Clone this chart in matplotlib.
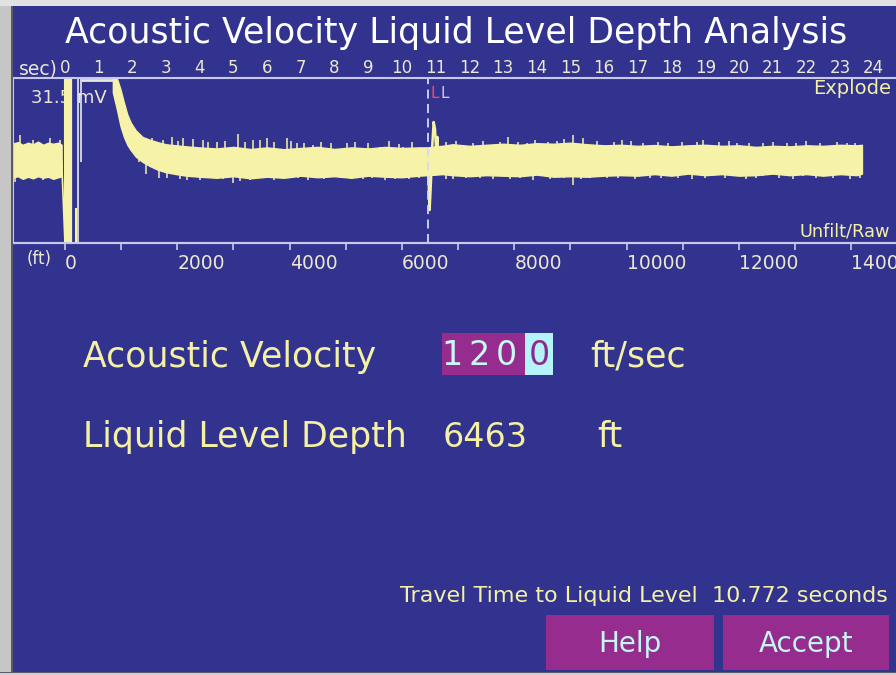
import matplotlib
matplotlib.use('Agg')
import matplotlib.pyplot as plt
from matplotlib.patches import Rectangle

W, H = 896, 675
BG = '#31338f'
FRAME = '#c8c8ec'
TRACE = '#f6f2a8'
PALE = '#f4f0a4'
LIGHT = '#ece8d0'
MAGENTA = '#962c8e'
CYAN = '#b4f4f8'
FONT = 'DejaVu Sans'

# ---- data ----
velocity = 1200          # ft/sec
travel_time = 10.772     # sec
depth = 6463             # ft
full_scale = 31.5        # mV

sec_ticks = list(range(0, 25))
ft_ticks = list(range(0, 15000, 1000))
ft_labels = [str(f) if f % 2000 == 0 else '' for f in ft_ticks]

# noise band before the shot (mV)
pre_t = [-1.55, -1.40, -1.25, -1.10, -0.95, -0.80, -0.65, -0.50, -0.35, -0.20, -0.10]
pre_hi = [6.5, 7.0, 6.0, 6.8, 6.2, 7.2, 6.0, 6.8, 6.4, 6.8, 6.0]
pre_lo = [-6.5, -6.0, -7.0, -6.2, -6.8, -6.0, -6.6, -6.2, -7.0, -6.4, -6.0]

# gun pulse: vertical strokes (sec, mV)
pulse_t = [0.00, 0.13, 0.33, 0.39, 0.47]
pulse_lo = [-31.5, -31.5, -31.5, -31.5, -0.6]
pulse_hi = [31.5, 31.5, -18.0, 31.5, 31.5]
clip_start, clip_end = 0.47, 1.42

# trace envelope after the shot (mV)
band_t = [1.42, 1.55, 1.65, 1.75, 1.85, 1.95, 2.10, 2.30, 2.50, 2.75, 3.00, 3.30, 3.60, 4.00,
          4.50, 5.00, 5.50, 6.00, 6.50, 7.00, 7.50, 8.00, 8.50, 9.00, 9.50, 10.00, 10.50, 10.75,
          11.00, 11.20, 11.50, 12.00, 12.50, 13.00, 13.50, 14.00, 14.50, 15.00, 15.50, 16.00,
          16.50, 17.00, 17.50, 18.00, 18.50, 19.00, 19.50, 20.00, 20.50, 21.00, 21.50, 22.00,
          22.50, 23.00, 23.50, 23.65]
band_hi = [31.5, 31.0, 27.0, 22.0, 17.5, 14.5, 11.5, 9.0, 8.0, 7.0, 6.2, 5.8, 5.4, 5.0,
           4.6, 5.2, 4.4, 5.0, 4.3, 4.8, 5.2, 4.4, 5.0, 4.6, 5.2, 4.8, 5.0, 5.0,
           5.4, 5.6, 6.2, 5.6, 6.0, 6.4, 6.0, 6.6, 6.4, 6.8, 6.2, 5.8,
           6.0, 5.6, 5.9, 5.4, 5.8, 6.0, 5.6, 5.8, 5.2, 5.6, 5.4, 5.8,
           5.6, 6.0, 5.8, 6.0]
band_lo = [26.0, 19.0, 13.0, 9.0, 6.0, 4.0, 1.5, -0.5, -2.0, -3.5, -4.5, -5.2, -5.8, -6.2,
           -6.6, -6.0, -6.8, -6.2, -6.6, -5.8, -6.4, -6.0, -6.6, -5.8, -6.2, -6.4, -5.8, -5.6,
           -5.4, -5.2, -5.6, -6.0, -5.6, -5.8, -6.0, -5.4, -6.2, -6.0, -6.2, -5.8,
           -5.6, -5.8, -5.2, -5.8, -5.0, -5.6, -5.2, -5.8, -5.6, -5.0, -5.6, -5.2,
           -5.8, -5.2, -5.6, -5.0]

# single spikes sticking out of the band (sec, mV)
spike_t = [-1.34, -0.95, -0.45, -0.15, -1.48, -1.04, -0.65, -0.09,
           2.58, 3.18, 3.50, 4.09, 4.51, 5.13, 5.58, 5.99, 6.59, 6.88,
           3.03, 3.62, 4.39, 4.99, 5.49, 6.47,
           7.36, 8.37, 9.35, 10.03, 11.81, 12.61, 13.15, 13.71, 14.33, 15.07, 15.37,
           8.16, 8.84, 11.51, 12.31, 13.20, 15.07, 15.58,
           16.53, 17.15, 18.75, 18.93, 19.94, 20.71, 21.42, 23.44,
           16.08, 17.36, 19.23, 20.71, 21.90, 22.79,
           2.20, 2.90, 3.35, 3.80, 4.25, 4.75, 5.35, 5.80, 6.20, 6.70, 7.10, 7.60, 7.90,
           8.60, 9.00, 9.60, 9.90, 10.30, 11.30, 11.60, 12.10, 12.40, 12.90, 13.45, 13.95,
           14.60, 14.80, 15.80, 16.30, 16.80, 17.60, 17.90, 18.30, 19.40, 19.70, 20.30,
           21.00, 21.70, 22.00, 22.40, 22.90, 23.20,
           2.40, 2.80, 3.40, 4.00, 4.70, 5.20, 5.75, 6.20, 6.90, 7.20, 7.70, 8.50, 9.10,
           9.50, 9.80, 10.20, 10.50, 11.30, 11.90, 12.70, 13.50, 13.90, 14.40, 14.80, 15.30,
           16.40, 16.90, 17.70, 18.20, 18.60, 19.00, 19.60, 20.20, 20.50, 21.20, 21.60,
           22.30, 23.30, 23.60]
spike_v = [9.7, 7.8, 8.6, 7.8, -8.2, -6.7, -7.4, -6.7,
           8.6, 9.0, 8.6, 7.8, 7.1, 10.1, 7.8, 8.6, 8.6, 6.7,
           -6.7, -7.4, -6.7, -8.6, -7.4, -6.7,
           5.9, 6.7, 5.2, 5.2, 5.9, 5.2, 9.0, 6.7, 7.1, 9.7, 8.6,
           -6.5, -7.0, -7.0, -6.5, -7.0, -9.4, -6.5,
           7.8, 6.7, 7.1, 7.8, 6.7, 6.5, 6.5, 6.7,
           -6.5, -6.5, -6.0, -6.0, -6.0, -6.5,
           9.5, 8.0, 7.5, 8.2, 7.0, 7.6, 7.2, 8.0, 7.0, 7.4, 6.8, 7.2, 6.5,
           7.0, 6.6, 7.4, 6.4, 7.0, 7.0, 7.6, 6.8, 7.4, 7.2, 7.0, 7.8,
           7.4, 8.2, 7.6, 7.0, 7.4, 7.0, 6.8, 7.2, 7.0, 7.4, 6.8,
           7.2, 6.6, 7.4, 6.8, 7.0, 6.6,
           -5.0, -6.5, -7.0, -7.4, -7.0, -7.8, -6.8, -7.4, -6.8, -7.6, -7.0, -7.2, -6.8,
           -7.6, -7.0, -7.2, -6.8, -7.0, -6.6, -7.2, -6.8, -7.4, -7.0, -6.8, -7.2,
           -6.8, -7.0, -6.6, -6.8, -7.0, -6.6, -6.8, -7.2, -6.6, -6.8, -7.0,
           -6.6, -7.0, -6.6]

# liquid level echo (sec, mV)
echo_t = [10.60, 10.72, 10.78, 10.82, 10.86, 10.90, 10.94, 10.98, 11.02, 11.05, 11.08, 11.14, 11.20]
echo_v = [1.0, -1.0, -4.0, -18.9, -8.0, 6.0, 14.7, 12.0, 2.0, 9.0, -4.4, 2.0, 0.0]


def fx(x):
    return x / W


def fy(y):
    return 1 - y / H


fig = plt.figure(figsize=(W / 100, H / 100), dpi=100, facecolor=BG)

# trace window
ax = fig.add_axes([fx(13), fy(243), fx(W - 13), (243 - 78) / H])
ax.set_facecolor(BG)
ax.set_xlim(-1.543, 24.66)
ax.set_ylim(-full_scale, full_scale)
ax.set_yticks([])
for side in ['top', 'bottom', 'left']:
    ax.spines[side].set_color(FRAME)
    ax.spines[side].set_linewidth(1.5)
ax.spines['right'].set_visible(False)

ax.xaxis.tick_top()
ax.set_xticks(sec_ticks)
ax.tick_params(axis='x', length=0, pad=1, labelsize=12, labelcolor=LIGHT)
for lbl in ax.get_xticklabels():
    lbl.set_fontfamily(FONT)

ftax = ax.secondary_xaxis('bottom', functions=(lambda t: t * velocity / 2,
                                               lambda d: d * 2 / velocity))
ftax.set_xticks(ft_ticks, labels=ft_labels)
ftax.tick_params(axis='x', direction='out', length=5, width=1.2, color=FRAME,
                 pad=3, labelsize=13.5, labelcolor=LIGHT)
ftax.spines['bottom'].set_color(FRAME)
ftax.spines['bottom'].set_linewidth(1.5)
for lbl in ftax.get_xticklabels():
    lbl.set_ha('left')

# waveform
ax.fill_between(pre_t, pre_lo, pre_hi, color=TRACE, lw=1)
ax.plot([pre_t[-1], pulse_t[0]], [0, pulse_lo[0]], color=TRACE, lw=1.2)
pulse_w = [1.5, 4.5, 1.5, 1.2, 1.2]
pulse_c = [TRACE, TRACE, TRACE, '#e8e8f0', '#e8e8f0']
for t, lo, hi, w, c in zip(pulse_t, pulse_lo, pulse_hi, pulse_w, pulse_c):
    ax.vlines(t, lo, hi, color=c, lw=w)
ax.hlines(full_scale - 0.6, clip_start, clip_end, color='#e8e8d8', lw=2)
ax.fill_between(band_t, band_lo, band_hi, color=TRACE, lw=1)
ax.vlines(spike_t, [-0.5] * len(spike_t), spike_v, color=TRACE, lw=1.1)
ax.plot(echo_t, echo_v, color=TRACE, lw=1.8)

# liquid level marker
ax.axvline(travel_time, color='#d8d8f4', lw=1.3, ls=(0, (5, 3)))
ax.text(travel_time + 0.08, 23.9, 'L', color='#ff4a5a', fontsize=11, family=FONT)
ax.text(travel_time + 0.38, 23.9, 'L', color='#d8c8f0', fontsize=11, family=FONT)
ax.text(-1.0, 21.8, '31.5 mV', color=LIGHT, fontsize=13, family=FONT, zorder=0)
ax.text(0.995, 0.9, 'Explode', transform=ax.transAxes, ha='right', va='baseline',
        color=PALE, fontsize=14, family=FONT)

fig.text(fx(890), fy(237), 'Unfilt/Raw', ha='right', va='baseline', color=PALE,
         fontsize=12.8, family=FONT)
fig.text(fx(58), fy(74.5), 'sec)', ha='right', va='baseline', color=LIGHT, fontsize=13.5, family=FONT)
fig.text(fx(27), fy(264), '(ft)', ha='left', va='baseline', color=LIGHT, fontsize=12, family=FONT)

# title
fig.text(fx(456), fy(43), 'Acoustic Velocity Liquid Level Depth Analysis', ha='center',
         va='baseline', color='white', fontsize=25, family=FONT)

# results
fig.text(fx(83), fy(367), 'Acoustic Velocity', ha='left', va='baseline', color=PALE,
         fontsize=25, family=FONT)
fig.text(fx(83), fy(447), 'Liquid Level Depth', ha='left', va='baseline', color=PALE,
         fontsize=25, family=FONT)
fig.add_artist(Rectangle((fx(442), fy(375)), fx(83), (375 - 333) / H, transform=fig.transFigure,
                         facecolor=MAGENTA, edgecolor='none'))
fig.add_artist(Rectangle((fx(525), fy(375)), fx(28), (375 - 333) / H, transform=fig.transFigure,
                         facecolor=CYAN, edgecolor='none'))
vel_str = str(velocity)
for ch, xc, col in zip(vel_str, [452, 479, 506, 539], ['#c8f8f8'] * 3 + ['#8a2b8c']):
    fig.text(fx(xc), fy(365), ch, ha='center', va='baseline', color=col, fontsize=24, family=FONT)
fig.text(fx(590), fy(366), 'ft/sec', ha='left', va='baseline', color=PALE, fontsize=25, family=FONT)
fig.text(fx(443), fy(447), str(depth), ha='left', va='baseline', color=PALE, fontsize=24, family=FONT)
fig.text(fx(597), fy(447), 'ft', ha='left', va='baseline', color=PALE, fontsize=25, family=FONT)

fig.text(fx(888), fy(602), f'Travel Time to Liquid Level  {travel_time} seconds', ha='right',
         va='baseline', color=PALE, fontsize=16, family=FONT)

# buttons
for x0, x1, label in [(546, 714, 'Help'), (723, 889, 'Accept')]:
    fig.add_artist(Rectangle((fx(x0), fy(670)), fx(x1 - x0), (670 - 615) / H,
                             transform=fig.transFigure, facecolor=MAGENTA, edgecolor='none'))
    fig.text(fx((x0 + x1) / 2), fy(652), label, ha='center', va='baseline', color='#c4f6f6',
             fontsize=20, family=FONT)

# window border
fig.add_artist(Rectangle((0, 0), fx(11), 1, transform=fig.transFigure,
                         facecolor='#c6c6c6', edgecolor='none', zorder=10))
fig.add_artist(Rectangle((fx(11), 0), fx(1.5), 1, transform=fig.transFigure,
                         facecolor='#5a5a66', edgecolor='none', zorder=10))
fig.add_artist(Rectangle((0, fy(6)), 1, 6 / H, transform=fig.transFigure,
                         facecolor='#e2e2e2', edgecolor='none', zorder=10))
fig.add_artist(Rectangle((0, 0), 1, 3 / H, transform=fig.transFigure,
                         facecolor='#d0d0d0', edgecolor='none', zorder=10))
fig.add_artist(Rectangle((0, fy(673)), 1, 1.2 / H, transform=fig.transFigure,
                         facecolor='#5a5a66', edgecolor='none', zorder=10))

fig.savefig('out.png', dpi=100, facecolor=BG)
